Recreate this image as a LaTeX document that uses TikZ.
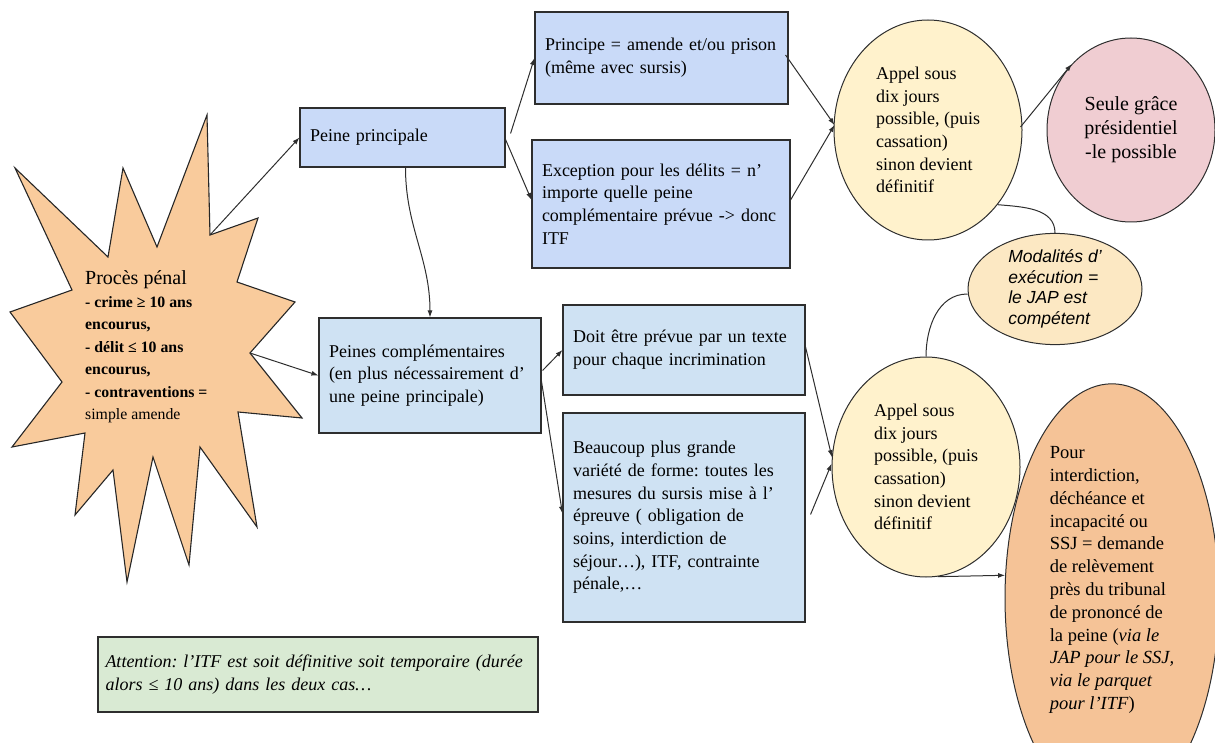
\documentclass[tikz,border=0pt]{standalone}
\usepackage{fontspec}
\setmainfont{Liberation Serif}
\setsansfont{Liberation Sans}
\usetikzlibrary{arrows.meta,shapes.geometric}
\definecolor{starfill}{HTML}{F9CB9C}
\definecolor{pourfill}{HTML}{F5C397}
\definecolor{blueA}{HTML}{C9DAF8}
\definecolor{blueB}{HTML}{CFE2F3}
\definecolor{appelfill}{HTML}{FFF2CC}
\definecolor{modfill}{HTML}{FCE8C3}
\definecolor{gracefill}{HTML}{F0CDD2}
\definecolor{greenfill}{HTML}{D9EAD3}
\definecolor{linec}{HTML}{2E2E2E}
\newcommand\mainfs{\fontsize{18}{22.7}\selectfont}
\frenchspacing
\begin{document}
\frenchspacing
\begin{tikzpicture}[x=1pt,y=-1pt,
  conn/.style={draw=linec, line width=1pt, -{Latex[length=7pt,width=5pt]}},
  plainline/.style={draw=linec, line width=1pt},
  boxA/.style={rectangle, draw=linec, line width=1.1pt, fill=blueA, inner xsep=10pt, inner ysep=0pt, align=left, font=\mainfs},
  boxB/.style={boxA, fill=blueB},
  oval/.style={ellipse, draw=linec, line width=1pt, inner sep=0pt, align=left, font=\mainfs}]
\useasboundingbox (0,0) rectangle (1215,743);

% starburst
\draw[fill=starfill, draw=black!85, line width=1.1pt, line join=miter]
  (15,168) -- (108,257) -- (123,168) -- (157,247) -- (207,115) -- (210,235)
  -- (258,218) -- (237,282) -- (295,302) -- (250,353) -- (302,418) -- (238,412)
  -- (257,527) -- (200,447) -- (189,565) -- (153,457) -- (127,582) -- (113,470)
  -- (75,515) -- (85,433) -- (12,447) -- (62,382) -- (10,312) -- (72,290) -- cycle;
\coordinate (sv1) at (210,235);
\coordinate (sv2) at (250,353);
\node[anchor=west, align=left, inner sep=0pt, font=\fontsize{15.8}{22.5}\selectfont\bfseries] (proces) at (85,347)
  {{\fontsize{20}{22.5}\selectfont\mdseries Procès pénal}\\- crime ≥ 10 ans\\encourus,\\- délit ≤ 10 ans\\encourus,\\- contraventions =\\{\mdseries simple amende}};

% boxes
\node[boxA, minimum width=205pt, minimum height=59pt, text width=185pt] (pp) at (402.5,137.5) {Peine principale};
\node[boxA, minimum width=253pt, minimum height=92pt, text width=233pt] (pr) at (661.5,58) {Principe = amende et/ou prison\\(même avec sursis)};
\node[boxA, minimum width=258pt, minimum height=128pt, text width=238pt] (ex) at (661,204) {Exception pour les délits = n’\\importe quelle peine\\complémentaire prévue -> donc\\ITF};
\node[boxB, minimum width=222pt, minimum height=115pt, text width=202pt] (pc) at (430,375.5) {Peines complémentaires\\(en plus nécessairement d’\\une peine principale)};
\node[boxB, minimum width=242pt, minimum height=90pt, text width=222pt] (doit) at (684,350) {Doit être prévue par un texte\\pour chaque incrimination};
\node[boxB, minimum width=242pt, minimum height=209pt, text width=222pt] (bc) at (684,517.5) {Beaucoup plus grande\\variété de forme: toutes les\\mesures du sursis mise à l’\\épreuve ( obligation de\\soins, interdiction de\\séjour…), ITF, contrainte\\pénale,…};
\node[rectangle, draw=linec, line width=1.1pt, fill=greenfill, inner xsep=7.5pt, align=left, text width=425pt, minimum height=75pt, font=\mainfs\itshape] (att) at (318,674.5) {Attention: l’ITF est soit définitive soit temporaire (durée\\alors ≤ 10 ans) dans les deux cas…};

% ellipses
\node[oval, fill=appelfill, minimum width=188pt, minimum height=220pt] (ap1) at (928,130) {Appel sous\\dix jours\\possible, (puis\\cassation)\\sinon devient\\définitif};
\node[oval, fill=gracefill, minimum width=168pt, minimum height=184pt, align=center, font=\fontsize{20}{24}\selectfont] (sg) at (1131,130) {Seule grâce\\présidentiel\\-le possible};
\node[oval, fill=modfill, minimum width=174pt, minimum height=106pt, font=\fontsize{17.5}{20.7}\selectfont\sffamily\itshape] (mod) at (1055,289) {Modalités d'\\exécution =\\le JAP est\\compétent};
\node[oval, fill=appelfill, minimum width=188pt, minimum height=220pt] (ap2) at (926,467) {Appel sous\\dix jours\\possible, (puis\\cassation)\\sinon devient\\définitif};
\node[oval, fill=pourfill, minimum width=214pt, minimum height=288pt, font=\fontsize{18.5}{22.8}\selectfont] (pour) at (1112,598) {Pour\\interdiction,\\déchéance et\\incapacité ou\\SSJ = demande\\de relèvement\\près du tribunal\\de prononcé de\\la peine (\textit{via le}\\\textit{JAP pour le SSJ,}\\\textit{via le parquet}\\\textit{pour l'ITF})\rule[-40pt]{0pt}{0pt}};

% connectors
\draw[conn] (sv1) -- (pp.west);
\draw[conn] (sv2) -- (pc.west);
\draw[conn] ([xshift=3pt]pp.south) to[out=-90,in=90] (pc.north);
\draw[conn] ([shift={(5,-4)}]pp.east) -- (pr.west);
\draw[conn] ([shift={(0,2)}]pp.east) -- ([shift={(0,-4)}]ex.west);
\draw[conn] ([shift={(-3,-3)}]pr.east) -- ([shift={(1,-5)}]ap1.west);
\draw[conn] ([shift={(0,-4)}]ex.east) -- ([shift={(1,-5)}]ap1.west);
\draw[conn] ([shift={(-2,-3)}]ap1.east) -- (sg.132);
\draw[plainline] (ap1.-47) to[out=-5,in=90] (mod.north);
\draw[plainline] ([shift={(0,5)}]mod.west) to[out=180,in=90] (ap2.north);
\draw[conn] ([shift={(1,-5)}]pc.east) -- (doit.west);
\draw[conn] ([shift={(-1,0)}]pc.east) -- ([shift={(0,-4)}]bc.west);
\draw[conn] ([shift={(0,-3)}]doit.east) -- (ap2.174);
\draw[conn] ([shift={(5,-3)}]bc.east) -- (ap2.178);
\draw[conn] (ap2.-84) -- (pour.168);
\end{tikzpicture}
\end{document}
